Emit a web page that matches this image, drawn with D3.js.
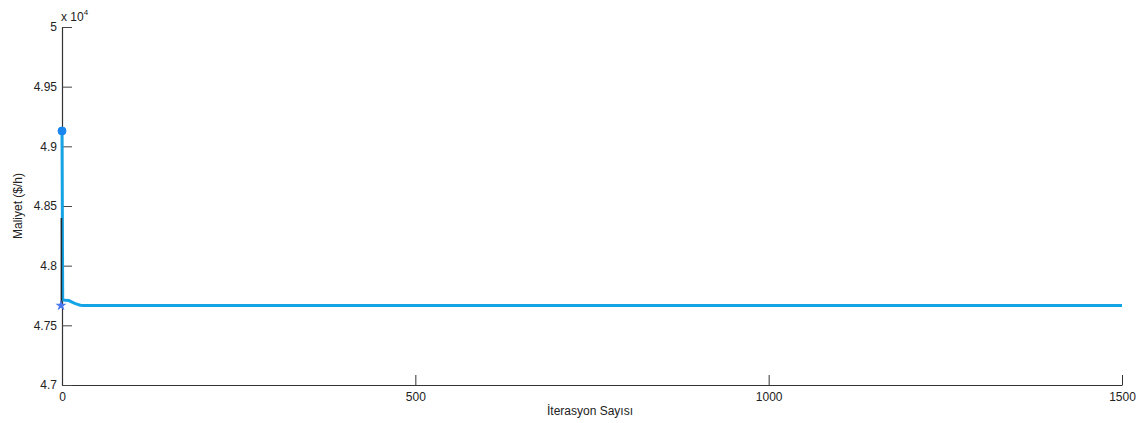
<!DOCTYPE html>
<html>
<head>
<meta charset="utf-8">
<script src="https://cdn.jsdelivr.net/npm/d3@7"></script>
<style>
  html, body { margin: 0; padding: 0; background: #ffffff; }
  svg { display: block; }
  text { font-family: "Liberation Sans", Arial, sans-serif; fill: #222; }
</style>
</head>
<body>
<svg id="chart" width="1140" height="423"></svg>
<script>
// Cost per iteration (sampled where the curve changes)
const iterations = [0, 1, 2, 5, 10, 12, 15, 18, 22, 26, 30, 50, 100, 500, 1000, 1500];
const cost = [49129, 47712, 47712, 47711, 47709, 47700, 47692, 47684, 47676, 47668, 47666, 47666, 47666, 47666, 47666, 47666];

// Second (dark) trace drawn at iteration 0
const darkIter = [0, 0];
const darkCost = [48400, 47666];

// Start point and best value markers
const startPoint = { iter: 0, cost: 49129 };
const bestPoint = { iter: 0, cost: 47666 };

const xTicks = [0, 500, 1000, 1500];
const yTicks = [47000, 47500, 48000, 48500, 49000, 49500, 50000];
const yTickLabels = ["4.7", "4.75", "4.8", "4.85", "4.9", "4.95", "5"];

const xTitle = "İterasyon Sayısı";
const yTitle = "Maliyet ($/h)";

const svg = d3.select("#chart");
const plotLeft = 62, plotRight = 1122, plotTop = 27, plotBottom = 385;

const x = d3.scaleLinear().domain([0, 1500]).range([plotLeft, plotRight]);
const y = d3.scaleLinear().domain([47000, 50000]).range([plotBottom, plotTop]);

// Axes: ticks point inward
const xAxis = d3.axisBottom(x).tickValues(xTicks).tickSizeInner(-10).tickSizeOuter(0).tickPadding(7)
  .tickFormat(d3.format("d"));
const gx = svg.append("g").attr("transform", `translate(0,${plotBottom})`).call(xAxis);
gx.select(".domain").attr("stroke", "#333").attr("stroke-width", 1.2);
gx.selectAll(".tick line").attr("stroke", "#333");
gx.selectAll(".tick text").attr("font-size", 12).attr("fill", "#222");

const yAxis = d3.axisLeft(y).tickValues(yTicks).tickSizeInner(-10).tickSizeOuter(0).tickPadding(5)
  .tickFormat((d, i) => yTickLabels[i]);
const gy = svg.append("g").attr("transform", `translate(${plotLeft},0)`).call(yAxis);
gy.select(".domain").attr("stroke", "#333").attr("stroke-width", 1.2);
gy.selectAll(".tick line").attr("stroke", "#444");
gy.selectAll(".tick text").attr("font-size", 12).attr("fill", "#222");

// Exponent label
const exp = svg.append("text").attr("x", 61).attr("y", 21).attr("font-size", 12);
exp.append("tspan").text("x 10");
exp.append("tspan").attr("dy", -6).attr("font-size", 8).text("4");

// Axis titles
svg.append("text").attr("x", 590).attr("y", 415).attr("text-anchor", "middle")
  .attr("font-size", 12).text(xTitle);
svg.append("text").attr("transform", "translate(22,206) rotate(-90)")
  .attr("text-anchor", "middle").attr("font-size", 12).text(yTitle);

// Cost curve
const line = d3.line().x(d => x(d[0])).y(d => y(d[1]));
svg.append("path")
  .datum(iterations.map((it, i) => [it, cost[i]]))
  .attr("fill", "none").attr("stroke", "#14a4e6").attr("stroke-width", 3)
  .attr("stroke-linejoin", "round")
  .attr("d", line);

// Dark trace
svg.append("path")
  .datum(darkIter.map((it, i) => [it, darkCost[i]]))
  .attr("fill", "none").attr("stroke", "#1b2a33").attr("stroke-width", 1.6)
  .attr("transform", "translate(-0.6,0)")
  .attr("d", line);

// Markers
svg.append("circle")
  .attr("cx", x(startPoint.iter)).attr("cy", y(startPoint.cost)).attr("r", 4)
  .attr("fill", "#1a86f0").attr("stroke", "#1a86f0");

svg.append("path")
  .attr("d", d3.symbol().type(d3.symbolStar).size(38)())
  .attr("transform", `translate(${x(bestPoint.iter) - 1},${y(bestPoint.cost)})`)
  .attr("fill", "#4a78ee");
</script>
</body>
</html>
